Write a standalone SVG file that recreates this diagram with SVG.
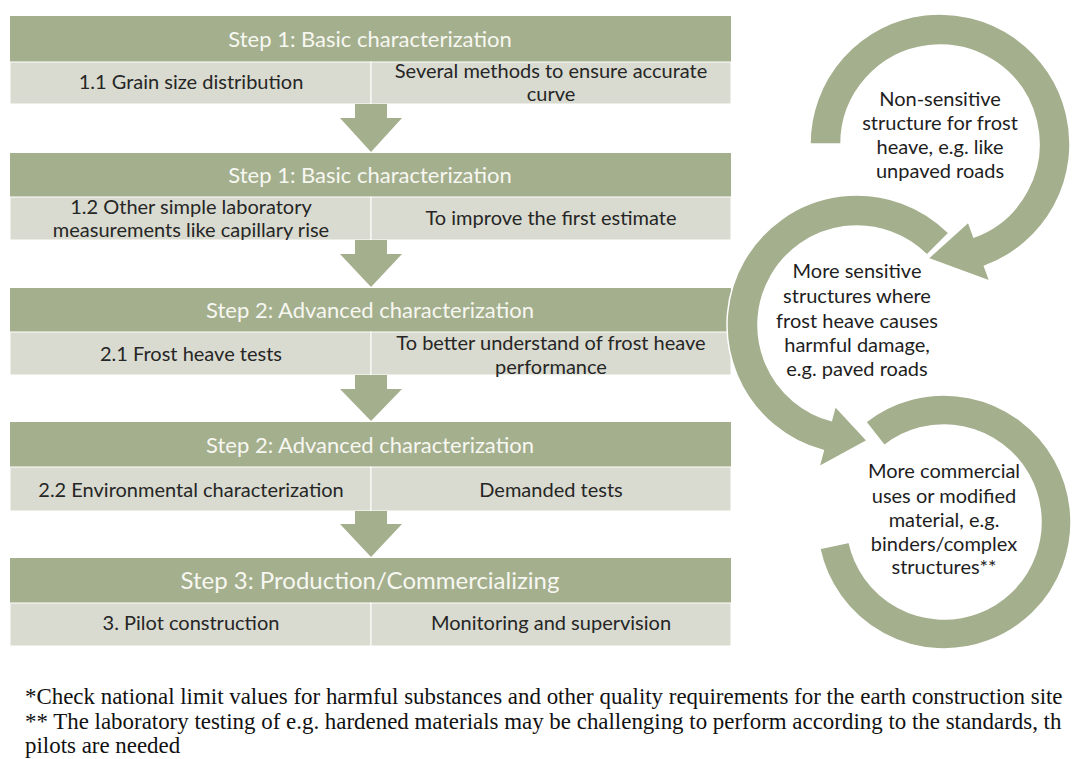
<svg xmlns="http://www.w3.org/2000/svg" width="1073" height="759" viewBox="0 0 1073 759">
<style>
.hd{fill:#a4af8d}
.cell{fill:#d9dbd0;stroke:#ffffff;stroke-width:1}
.ht{font-family:Lato,"Open Sans",sans-serif;font-size:22px;fill:#f7f7f2;text-anchor:middle}
.rt{font-family:Lato,"Open Sans",sans-serif;font-size:20px;fill:#262626;text-anchor:middle}
.ct{font-family:Lato,"Open Sans",sans-serif;font-size:20px;fill:#1e1e1e;text-anchor:middle}
.arr{fill:#a4af8d}
.ring{fill:#a4af8d;stroke:#ffffff;stroke-width:1.5}
.ft{font-family:"Liberation Serif","Times New Roman",serif;font-size:24px;fill:#111}
</style>
<rect width="1073" height="759" fill="#ffffff"/>

<g id="block1">
<rect class="hd" x="10" y="16" width="721" height="46"/>
<rect class="cell" x="10" y="62" width="361" height="42"/>
<rect class="cell" x="371" y="62" width="360" height="42"/>
<text class="ht" x="370" y="47">Step 1: Basic characterization</text>
<text class="rt" x="191" y="89">1.1 Grain size distribution</text>
<text class="rt" x="551" y="78">Several methods to ensure accurate</text>
<text class="rt" x="551" y="101">curve</text>
</g>

<g id="block2">
<rect class="hd" x="10" y="153" width="721" height="44"/>
<rect class="cell" x="10" y="197" width="361" height="43"/>
<rect class="cell" x="371" y="197" width="360" height="43"/>
<text class="ht" x="370" y="183">Step 1: Basic characterization</text>
<text class="rt" x="191" y="214">1.2 Other simple laboratory</text>
<text class="rt" x="191" y="237">measurements like capillary rise</text>
<text class="rt" x="551" y="225">To improve the first estimate</text>
</g>

<g id="block3">
<rect class="hd" x="10" y="288" width="721" height="44"/>
<rect class="cell" x="10" y="332" width="361" height="43"/>
<rect class="cell" x="371" y="332" width="360" height="43"/>
<text class="ht" x="370" y="318">Step 2: Advanced characterization</text>
<text class="rt" x="191" y="361">2.1 Frost heave tests</text>
<text class="rt" x="551" y="350">To better understand of frost heave</text>
<text class="rt" x="551" y="374">performance</text>
</g>

<g id="block4">
<rect class="hd" x="10" y="422" width="721" height="45"/>
<rect class="cell" x="10" y="467" width="361" height="44"/>
<rect class="cell" x="371" y="467" width="360" height="44"/>
<text class="ht" x="370" y="453">Step 2: Advanced characterization</text>
<text class="rt" x="191" y="497">2.2 Environmental characterization</text>
<text class="rt" x="551" y="497">Demanded tests</text>
</g>

<g id="block5">
<rect class="hd" x="10" y="558" width="721" height="45"/>
<rect class="cell" x="10" y="603" width="361" height="43"/>
<rect class="cell" x="371" y="603" width="360" height="43"/>
<text class="ht" x="370" y="589" style="font-size:24px">Step 3: Production/Commercializing</text>
<text class="rt" x="191" y="630">3. Pilot construction</text>
<text class="rt" x="551" y="630">Monitoring and supervision</text>
</g>

<g id="connectors">
<polygon class="arr" points="355,104 387,104 387,118 402,118 371,152 340,118 355,118"/>
<polygon class="arr" points="355,240 387,240 387,254 402,254 371,287 340,254 355,254"/>
<polygon class="arr" points="355,375 387,375 387,389 402,389 371,421 340,389 355,389"/>
<polygon class="arr" points="355,511 387,511 387,524 402,524 371,557 340,524 355,524"/>
</g>

<g id="cycle3">
<path class="ring" d="M865.81,421.92 A127,127 0 1 1 819.78,548.4 L849.12,542.17 A97,97 0 1 0 884.28,445.56 Z"/>
<text class="ct" x="944" y="478">More commercial</text>
<text class="ct" x="944" y="503">uses or modified</text>
<text class="ct" x="944" y="527">material, e.g.</text>
<text class="ct" x="944" y="551">binders/complex</text>
<text class="ct" x="944" y="574">structures**</text>
</g>

<g id="cycle2">
<path class="ring" d="M948.92,233.08 A130,130 0 1 0 823.35,450.57 L818.95,466.99 L867.1,440.6 L835.26,406.14 L831.38,420.63 A99,99 0 1 1 927,255 Z"/>
<text class="ct" x="857" y="278">More sensitive</text>
<text class="ct" x="857" y="303">structures where</text>
<text class="ct" x="857" y="328">frost heave causes</text>
<text class="ct" x="857" y="352">harmful damage,</text>
<text class="ct" x="857" y="376">e.g. paved roads</text>
</g>

<g id="cycle1">
<path class="ring" d="M810,144 A130,130 0 1 1 984.46,266.16 L989.93,281.2 L927.98,258.37 L968.39,222 L973.86,237.03 A99,99 0 1 0 841,144 Z"/>
<text class="ct" x="940" y="106">Non-sensitive</text>
<text class="ct" x="940" y="130">structure for frost</text>
<text class="ct" x="940" y="154">heave, e.g. like</text>
<text class="ct" x="940" y="178">unpaved roads</text>
</g>

<g id="footnotes" transform="translate(25,0) scale(0.955,1)">
<text class="ft" x="0" y="704">*Check national limit values for harmful substances and other quality requirements for the earth construction site</text>
<text class="ft" x="0" y="729">** The laboratory testing of e.g. hardened materials may be challenging to perform according to the standards, th</text>
<text class="ft" x="0" y="753">pilots are needed</text>
</g>
</svg>
